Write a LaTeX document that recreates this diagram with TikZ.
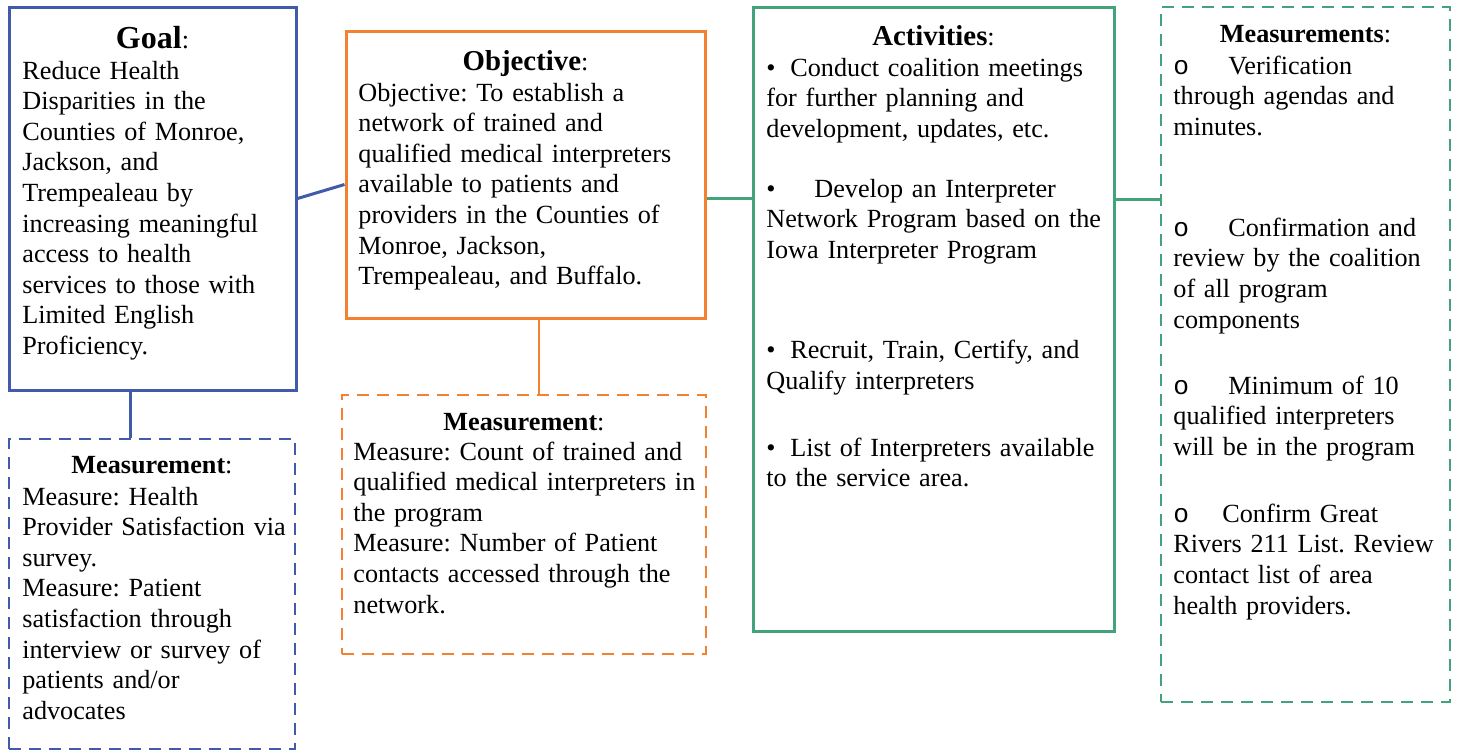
\documentclass[tikz,border=0pt]{standalone}
\usepackage{fontspec}
\setmainfont{Liberation Serif}
\newfontfamily\ringfont{Liberation Mono}
\usetikzlibrary{positioning}
\frenchspacing
\definecolor{goalblue}{HTML}{3F5BA9}
\definecolor{objorange}{HTML}{F28130}
\definecolor{actgreen}{HTML}{45A37B}
\tikzstyle{plan_box}=[line width=1.5pt, inner sep=0pt, fill=white]
\tikzstyle{meas_box}=[line width=1pt, dash pattern=on 6pt off 4pt, inner sep=0pt, fill=white]
\tikzstyle{box_title}=[anchor=base, inner sep=0pt, font=\fontsize{13.1}{15.3}\selectfont]
\tikzstyle{box_text}=[anchor=base west, align=left, text width=185pt, inner sep=0pt, font=\fontsize{13.1}{15.3}\selectfont]
\newcommand{\dotitem}[1]{\makebox[#1][l]{\textbullet}}
\newcommand{\ringitem}[1]{\makebox[#1][l]{\ringfont o}}

\begin{document}
\begin{tikzpicture}[x=0.5pt, y=-0.5pt]
\useasboundingbox (0,0) rectangle (1457,752);
\node[plan_box, draw=goalblue, minimum width=143.5pt, minimum height=191.5pt] (goal) at (152.5,198.5){};
\node[meas_box, draw=goalblue, minimum width=143pt, minimum height=155pt] (goal_meas) at (152,594){};
\node[plan_box, draw=objorange, minimum width=179.5pt, minimum height=143.5pt] (obj) at (525.5,174.5){};
\node[meas_box, draw=objorange, minimum width=182pt, minimum height=129.5pt] (obj_meas) at (524,524.5){};
\node[plan_box, draw=actgreen, minimum width=180.5pt, minimum height=312pt] (act) at (933.5,319){};
\node[meas_box, draw=actgreen, minimum width=144.5pt, minimum height=347.5pt] (act_meas) at (1305.5,354.5){};
\draw[goalblue, line width=1.5pt](goal.east) -- ([yshift=-5pt]obj.west);
\draw[goalblue, line width=1.5pt]([xshift=-11pt]goal.south) -- ([xshift=-11pt]goal.south |- goal_meas.north);
\draw[objorange, line width=1pt]([xshift=6.5pt]obj.south) -- ([xshift=6.5pt]obj.south |- obj_meas.north);
\draw[actgreen, line width=1.5pt]([yshift=-12pt]obj.east) -- ([yshift=-12pt]obj.east -| act.west);
\draw[actgreen, line width=1.5pt]([yshift=60pt]act.east) -- ([yshift=60pt]act.east -| act_meas.west);
\node[box_title] (goal_head) at (152.5,48){\textbf{\fontsize{16}{18}\selectfont Goal}:};
\node[box_text] (goal_text) at (22,79){Reduce Health\\ Disparities in the\\ Counties of Monroe,\\ Jackson, and\\ Trempealeau by\\ increasing meaningful\\ access to health\\ services to those with\\ Limited English\\ Proficiency.};
\node[box_title] (goal_meas_head) at (152,473){\textbf{Measurement}:};
\node[box_text] (goal_meas_text) at (22,505){Measure: Health\\ Provider Satisfaction via\\ survey.\\ Measure: Patient\\ satisfaction through\\ interview or survey of\\ patients and/or\\ advocates};
\node[box_title] (obj_head) at (525.5,70){\textbf{\fontsize{14.4}{16}\selectfont Objective}:};
\node[box_text] (obj_text) at (358,101){Objective: To establish a\\ network of trained and\\ qualified medical interpreters\\ available to patients and\\ providers in the Counties of\\ Monroe, Jackson,\\ Trempealeau, and Buffalo.};
\node[box_title] (obj_meas_head) at (524,430){\textbf{Measurement}:};
\node[box_text] (obj_meas_text) at (353,460){Measure: Count of trained and\\ qualified medical interpreters in\\ the program\\ Measure: Number of Patient\\ contacts accessed through the\\ network.};
\node[box_title] (act_head) at (933.5,45){\textbf{\fontsize{14.4}{16}\selectfont Activities}:};
\node[box_text] (act_text) at (766,76){\dotitem{12pt}Conduct coalition meetings\\ for further planning and\\ development, updates, etc.\\[14.7pt]
\dotitem{24pt}Develop an Interpreter\\ Network Program based on the\\ Iowa Interpreter Program\\[34.7pt]
\dotitem{12pt}Recruit, Train, Certify, and\\ Qualify interpreters\\[18.2pt]
\dotitem{12pt}List of Interpreters available\\ to the service area.};
\node[box_title] (act_meas_head) at (1305.5,42){\textbf{Measurements}:};
\node[box_text] (act_meas_text) at (1173,74){\ringitem{27.5pt}Verification\\ through agendas and\\ minutes.\\[35.2pt]
\ringitem{27.5pt}Confirmation and\\ review by the coalition\\ of all program\\ components\\[17.7pt]
\ringitem{27.5pt}Minimum of 10\\ qualified interpreters\\ will be in the program\\[18.2pt]
\ringitem{24.5pt}Confirm Great\\ Rivers 211 List. Review\\ contact list of area\\ health providers.};
\end{tikzpicture}
\end{document}
